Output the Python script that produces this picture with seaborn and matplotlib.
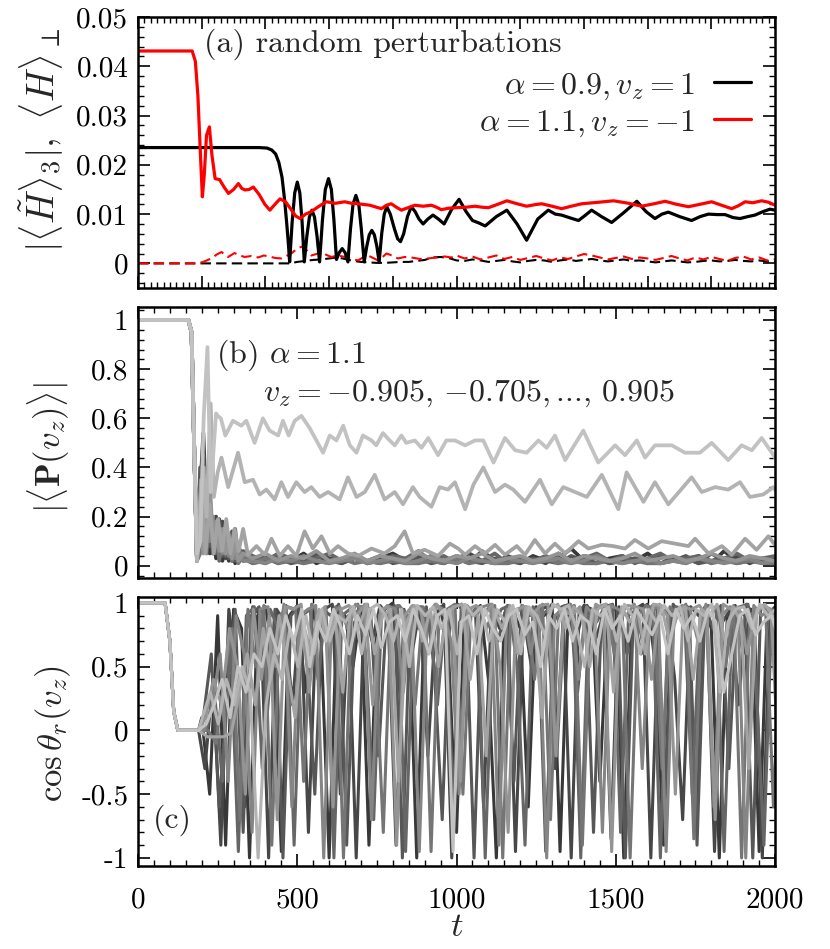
import numpy as np
import pandas as pd
import matplotlib
matplotlib.use("Agg")
import matplotlib.pyplot as plt
import seaborn as sns
from matplotlib.ticker import MultipleLocator, FixedLocator, FixedFormatter

# ---------------- data: panel (a) ----------------
a_black_t = [0, 380, 405, 420, 432, 442, 452, 460, 467, 472,
             476, 484, 492, 500, 508, 515, 522, 530, 538, 546,
             554, 562, 570, 579, 588, 598, 607, 615, 623, 632,
             641, 650, 659, 667, 675, 684, 693, 701, 710, 718,
             726, 734, 742, 750, 757, 765, 773, 781, 792, 805,
             815, 824, 834, 846, 858, 870, 882, 895, 910, 926,
             943, 961, 985, 1008, 1030, 1050, 1070, 1090, 1125, 1158,
             1190, 1220, 1255, 1288, 1310, 1330, 1358, 1383, 1405, 1424,
             1455, 1487, 1525, 1566, 1595, 1623, 1645, 1665, 1700, 1738,
             1765, 1791, 1818, 1843, 1868, 1890, 1915, 1937, 1962, 1984,
             2000]
a_black_v = [0.0235, 0.0235, 0.0234, 0.0230, 0.0222, 0.0205, 0.0175, 0.0130, 0.0080, 0.0040,
             0.0003, 0.0085, 0.0143, 0.0165, 0.0143, 0.0085, 0.0003, 0.0055, 0.0094, 0.0108,
             0.0094, 0.0055, 0.0003, 0.0088, 0.0150, 0.0172, 0.0150, 0.0088, 0.0008, 0.0022,
             0.0030, 0.0022, 0.0003, 0.0070, 0.0120, 0.0138, 0.0120, 0.0070, 0.0003, 0.0034,
             0.0058, 0.0067, 0.0058, 0.0034, 0.0003, 0.0060, 0.0100, 0.0115, 0.0100, 0.0070,
             0.0050, 0.0044, 0.0060, 0.0095, 0.0115, 0.0105, 0.0090, 0.0080, 0.0090, 0.0098,
             0.0090, 0.0080, 0.0110, 0.0130, 0.0105, 0.0087, 0.0082, 0.0076, 0.0095, 0.0108,
             0.0080, 0.0047, 0.0090, 0.0108, 0.0100, 0.0098, 0.0092, 0.0087, 0.0098, 0.0108,
             0.0095, 0.0083, 0.0103, 0.0126, 0.0105, 0.0091, 0.0100, 0.0104, 0.0095, 0.0087,
             0.0095, 0.0100, 0.0099, 0.0099, 0.0093, 0.0091, 0.0095, 0.0098, 0.0105, 0.0110,
             0.0108]

a_red_t = [0, 170, 180, 188, 196, 202, 208, 215, 224, 232,
           242, 256, 270, 284, 300, 315, 326, 336, 349, 362,
           380, 398, 414, 430, 446, 463, 480, 495, 509, 526,
           544, 566, 591, 620, 649, 670, 691, 728, 764, 780,
           795, 811, 827, 848, 869, 895, 921, 937, 952, 976,
           1000, 1030, 1058, 1080, 1100, 1130, 1158, 1190, 1220, 1245,
           1267, 1300, 1330, 1360, 1393, 1445, 1493, 1540, 1581, 1620,
           1655, 1690, 1728, 1765, 1801, 1832, 1864, 1885, 1906, 1930,
           1958, 1980, 2000]
a_red_v = [0.0431, 0.0431, 0.0410, 0.0340, 0.0220, 0.0135, 0.0180, 0.0260, 0.0277, 0.0220,
           0.0172, 0.0170, 0.0155, 0.0142, 0.0150, 0.0162, 0.0152, 0.0149, 0.0150, 0.0155,
           0.0140, 0.0120, 0.0108, 0.0120, 0.0131, 0.0125, 0.0110, 0.0096, 0.0091, 0.0100,
           0.0105, 0.0115, 0.0125, 0.0122, 0.0125, 0.0122, 0.0121, 0.0118, 0.0111, 0.0118,
           0.0121, 0.0114, 0.0108, 0.0113, 0.0118, 0.0116, 0.0118, 0.0114, 0.0109, 0.0112,
           0.0113, 0.0114, 0.0116, 0.0114, 0.0113, 0.0120, 0.0127, 0.0121, 0.0116, 0.0119,
           0.0121, 0.0116, 0.0111, 0.0116, 0.0121, 0.0124, 0.0127, 0.0122, 0.0116, 0.0121,
           0.0126, 0.0120, 0.0115, 0.0120, 0.0125, 0.0118, 0.0111, 0.0117, 0.0125, 0.0123,
           0.0127, 0.0124, 0.0118]

a_red_dash_t = [0, 188, 205, 230, 247, 262, 283, 303, 320, 335,
                356, 377, 395, 413, 430, 450, 466, 481, 500, 518,
                532, 544, 560, 576, 592, 607, 628, 649, 670, 691,
                706, 722, 738, 754, 768, 780, 798, 816, 837, 858,
                885, 911, 937, 963, 983, 1000] + list(range(1025, 2001, 25))
a_red_dash_v = [0, 0, .0003, .0010, .0018, .0023, .0013, .0021, .0016, .0013,
                .0015, .0012, .0016, .0014, .0011, .0010, .0015, .0020, .0030, .0035,
                .0025, .0016, .0019, .0023, .0017, .0013, .0016, .0013, .0009, .0006,
                .0012, .0016, .0011, .0006, .0013, .0020, .0016, .0010, .0013, .0012,
                .0009, .0010, .0012, .0014, .0012, .0016,
                .0010, .0014, .0008, .0012, .0016, .0009, .0013, .0007, .0011, .0015,
                .0010, .0006, .0012, .0009, .0014, .0019, .0016, .0012, .0008, .0011,
                .0014, .0009, .0012, .0010, .0007, .0011, .0015, .0010, .0006, .0012,
                .0008, .0013, .0009, .0005, .0011, .0014, .0008, .0012, .0006, .0008]

a_black_dash_t = [0, 476] + list(range(500, 2001, 25))
a_black_dash_v = [0, 0,
                  .0003, .0005, .0007, .0008, .0010, .0012, .0009, .0005, .0003, .0002,
                  .0001, .0001, .0002, .0003, .0003, .0005, .0007, .0012, .0013, .0011, .0006,
                  .0005, .0008, .0006, .0003, .0005, .0007, .0004, .0002, .0005, .0007,
                  .0006, .0003, .0006, .0008, .0005, .0007, .0009, .0006, .0004, .0006,
                  .0008, .0005, .0006, .0004, .0002, .0004, .0006, .0004, .0002, .0003,
                  .0005, .0006, .0004, .0005, .0007, .0005, .0004, .0006, .0004, .0003]

a_labels = [r"$\alpha = 0.9, v_z = 1$", r"$\alpha = 1.1, v_z = -1$"]

# ---------------- data: panel (b) ----------------
b_vz = [-0.905, -0.705, -0.505, -0.305, -0.105, 0.105, 0.305, 0.505, 0.705, 0.905]

b_hi1_t = [0, 158, 168, 176, 185, 196, 206, 218, 228, 236,
           245, 250, 260, 274, 298, 324, 340, 366, 392, 413,
           440, 455, 473, 492, 513, 539, 560, 581, 602, 623,
           644, 665, 686, 706, 733, 748, 769, 790, 806, 827,
           842, 869, 890, 911, 942, 968, 995, 1027, 1058, 1084,
           1116, 1152, 1184, 1220, 1257, 1283, 1309, 1341, 1398, 1445,
           1498, 1529, 1566, 1592, 1623, 1676, 1717, 1764, 1801, 1853,
           1895, 1927, 1958, 1995, 2000]
b_hi1_v = [1, 1, .95, .5, .05, .1, .6, .89, .3, .45,
           .62, .61, .60, .53, .59, .57, .59, .50, .60, .55,
           .53, .59, .53, .59, .61, .56, .51, .46, .53, .51,
           .57, .49, .46, .53, .51, .49, .54, .51, .49, .53,
           .50, .51, .48, .52, .45, .51, .51, .49, .51, .51,
           .42, .52, .47, .46, .51, .48, .53, .43, .55, .42,
           .49, .45, .51, .44, .49, .49, .46, .46, .50, .43,
           .49, .47, .52, .45, .44]

b_hi2_t = [0, 158, 168, 176, 185, 195, 205, 215, 228, 238,
           250, 262, 283, 314, 335, 361, 382, 403, 429, 450,
           471, 497, 523, 544, 570, 597, 633, 659, 686, 712,
           743, 774, 806, 832, 863, 884, 921, 947, 973, 995,
           1027, 1053, 1084, 1121, 1152, 1178, 1215, 1262, 1299, 1335,
           1372, 1409, 1456, 1508, 1534, 1587, 1623, 1665, 1738, 1770,
           1812, 1853, 1890, 1921, 1963, 1995, 2000]
b_hi2_v = [1, 1, .95, .5, .02, .2, .4, .2, .66, .28,
           .38, .44, .32, .46, .34, .35, .29, .31, .27, .34,
           .28, .34, .30, .32, .28, .30, .27, .36, .28, .30,
           .37, .27, .30, .25, .32, .28, .24, .32, .31, .34,
           .23, .33, .40, .30, .33, .31, .26, .35, .25, .32,
           .30, .28, .37, .23, .38, .26, .34, .25, .36, .30,
           .32, .31, .34, .28, .29, .32, .31]

b_mid_t = [0, 158, 168, 176, 185, 198, 212, 225, 238, 251,
           264, 277, 290, 303, 316, 330, 345, 372, 398, 419,
           445, 471, 497, 523, 549, 576, 602, 628, 659, 691,
           733, 774, 806, 837, 863, 900, 942, 979, 1005, 1027,
           1058, 1089, 1121, 1152, 1189, 1215, 1246, 1278, 1309, 1341,
           1383, 1414, 1456, 1492, 1529, 1560, 1602, 1644, 1686, 1728,
           1749, 1791, 1833, 1864, 1906, 1942, 1979, 2000]
b_mid_v = [1, 1, .95, .5, .02, .35, .05, .25, .05, .19,
           .06, .19, .05, .15, .06, .15, .045, .08, .045, .11,
           .04, .08, .04, .14, .07, .12, .05, .08, .05, .04,
           .07, .05, .08, .14, .05, .065, .04, .09, .07, .045,
           .08, .05, .085, .045, .08, .045, .105, .05, .09, .05,
           .10, .07, .085, .08, .07, .105, .07, .10, .09, .08,
           .11, .05, .08, .045, .11, .065, .12, .085]

b_low_t = [0, 158, 168, 176, 185, 195, 205, 215, 225, 235,
           245, 255, 265, 275, 285, 295, 305, 315, 330] + list(range(360, 2001, 40))
b_low_v = [
    [1, 1, .95, .5, .02, .3, .54, .2, .05, .15, .03, .12, .02, .1, .02, .06, .01, .04, .02,
     .03, .01, .04, .02, .05, .01, .03, .02, .04, .01, .03, .05, .02, .01, .04, .02, .03, .01, .06, .02,
     .03, .01, .04, .02, .03, .07, .02, .01, .03, .04, .02, .05, .01, .03, .02, .04, .01, .06, .02, .03,
     .02, .03],
    [1, 1, .95, .5, .02, .1, .35, .15, .3, .05, .2, .04, .18, .03, .1, .02, .08, .02, .05,
     .02, .04, .01, .03, .02, .05, .03, .01, .04, .02, .01, .03, .02, .04, .02, .01, .03, .05, .02, .01,
     .04, .02, .03, .01, .05, .02, .04, .03, .01, .02, .03, .01, .04, .02, .03, .01, .05, .02, .04, .01,
     .03, .02],
    [1, 1, .95, .5, .02, .4, .1, .3, .08, .2, .05, .19, .04, .16, .03, .14, .02, .08, .03,
     .01, .02, .03, .01, .02, .04, .02, .01, .03, .02, .04, .01, .02, .03, .01, .02, .04, .02, .01, .03,
     .02, .01, .03, .02, .01, .04, .02, .03, .01, .02, .03, .02, .01, .02, .04, .01, .02, .03, .01, .02,
     .02, .01],
    [1, 1, .95, .5, .02, .2, .45, .1, .25, .05, .15, .02, .13, .04, .12, .02, .15, .03, .06,
     .04, .02, .05, .03, .01, .03, .05, .02, .04, .01, .02, .04, .03, .06, .02, .04, .01, .03, .02, .05,
     .01, .03, .02, .04, .02, .01, .03, .05, .02, .04, .01, .03, .05, .02, .03, .04, .02, .03, .05, .02,
     .03, .04],
    [1, 1, .95, .5, .02, .05, .3, .05, .2, .1, .12, .03, .1, .05, .08, .02, .06, .01, .04,
     .01, .03, .01, .02, .01, .02, .01, .03, .01, .02, .01, .02, .01, .01, .02, .01, .03, .01, .02, .01,
     .01, .02, .01, .03, .01, .02, .01, .01, .02, .01, .02, .01, .01, .02, .01, .03, .01, .02, .01, .02,
     .01, .01],
    [1, 1, .95, .5, .02, .25, .15, .4, .1, .2, .08, .15, .05, .12, .04, .1, .03, .07, .02,
     .02, .01, .03, .02, .04, .02, .01, .02, .03, .01, .02, .03, .01, .02, .04, .02, .01, .03, .02, .01,
     .03, .02, .01, .02, .03, .01, .02, .04, .02, .01, .02, .03, .01, .02, .01, .03, .02, .01, .02, .03,
     .01, .02],
    [1, 1, .95, .5, .02, .15, .05, .2, .35, .1, .18, .06, .15, .05, .13, .03, .1, .02, .05,
     .03, .05, .02, .04, .03, .06, .02, .03, .05, .02, .04, .03, .02, .05, .03, .02, .04, .03, .05, .02,
     .03, .04, .02, .03, .05, .02, .04, .03, .02, .03, .05, .02, .03, .04, .02, .03, .05, .03, .02, .04,
     .03, .02],
]

# ---------------- data: panel (c) ----------------
c_pre_t = [0, 85, 100, 112, 125, 190]
c_pre_v = [1, 1, 0.7, 0.15, 0, 0]
c_start = [200, 210, 205, 215, 220, 208, 212, 218, 202, 214]
c_step = 25
c_vals = [
    [.1, -.5, .9, -.9, .95, .8, -1, .9, .97, .6, -.95, .9, .98, .3, .95,
     .7, -1, .95, .9, .5, .97, -.9, .8, .95, 1, .2, .9, -1, .95, .85,
     .97, .6, -.8, .95, .9, .98, .4, -1, .9, .95, .8, -.6, .97, .9, .99,
     -.95, .9, .7, .98, .95, -.4, .9, .97, -1, .85, .95, .99, .5, -.9, .95,
     .9, .97, -.7, .95, .8, -1, .9, .98, .6, .95, -.95, .9, .97, .3, .95],
    [-.3, .4, -.9, .95, .5, -.6, .97, .9, -1, .95, .85, .2, .98, -.8, .9,
     .95, .99, -.5, .9, -1, .95, .7, .98, .9, -.9, .95, .6, .97, -.2, .9,
     .99, -1, .85, .95, .9, -.6, .97, .8, .98, -.95, .9, .5, .95, .97, -.3,
     .9, -1, .95, .98, .7, .9, -.85, .97, .6, .95, .99, -1, .9, .95, .4,
     -.7, .97, .9, .98, -.95, .85, .95, .2, .99, .9, -1, .95, .8, .97, .9],
    [.1, .6, -.6, .3, .95, -.8, .9, .97, .1, .95, -1, .9, .98, .6, -.5,
     .95, .9, .99, -.9, .85, .97, .95, -.2, .9, .98, -1, .95, .8, .97, .5,
     -.7, .95, .99, .9, -1, .9, .97, .7, .95, -.4, .98, .9, .95, -.95, .85,
     .97, .99, .3, .95, -.8, .9, .98, .95, -1, .9, .6, .97, .95, -.5, .99,
     .9, .95, -.9, .97, .8, .98, -.3, .95, .9, -1, .97, .95, .7, .9, .98],
    [0, .3, -.4, .7, -.95, .9, .97, -.3, .95, .8, .98, -.9, .9, .95, .4,
     .97, -1, .9, .95, .99, .6, -.7, .95, .9, .98, -.95, .85, .97, .9, .2,
     .95, -.6, .99, .9, .97, -1, .8, .95, .98, .5, -.9, .97, .9, .95, -.2,
     .98, .9, -1, .95, .85, .97, .99, -.8, .9, .95, .6, .98, -1, .9, .97,
     .95, -.5, .9, .98, .95, -.95, .85, .97, .99, .4, -.9, .95, .9, .98, .9],
    [0, -.1, .4, .8, -.7, .95, .5, .98, -.9, .9, .97, .95, -.4, .99, .9,
     .7, .97, -1, .9, .95, .99, .6, -.8, .95, .98, .9, .2, .97, -.95, .9,
     .95, .99, -.5, .9, .97, .8, .98, -1, .9, .95, .97, .4, .99, -.7, .9,
     .95, .98, -.9, .9, .97, .99, .6, .95, -1, .9, .98, .95, -.3, .97, .9,
     .99, -.85, .95, .9, .97, .5, .98, -1, .9, .95, .97, -.6, .99, .9, .95],
    [0, .2, .6, -.4, .9, .6, -.8, .95, .97, .5, .99, -.6, .9, .95, .98,
     -1, .9, .97, .8, .99, .95, -.7, .9, .98, .95, .3, .97, -.95, .9, .99,
     .95, .7, -.5, .98, .9, .97, .99, -.9, .95, .9, .98, .6, .97, -1, .9,
     .95, .99, .4, .97, .9, -.8, .98, .95, .9, .99, -.3, .95, .97, -.95, .9,
     .98, .95, .7, .99, -.6, .9, .97, .95, -1, .98, .9, .95, .5, .97, .99],
    [.1, .4, .2, .8, .5, -.5, .95, .4, .9, -.7, .97, .95, .99, .3, .9,
     .97, -.6, .95, .98, .9, .99, .2, .95, .97, -.9, .9, .98, .95, .6, .99,
     .9, .97, -.4, .95, .98, .9, .99, .5, -.8, .95, .97, .9, .98, .99, -.2,
     .95, .9, .97, .7, .99, .95, -.95, .9, .98, .97, .95, .4, .99, .9, -.5,
     .97, .95, .98, .9, -.7, .99, .95, .97, .6, .9, .98, .95, -.3, .99, .97],
    [-.05, -.05, -.05, -.02, .3, .6, .2, .8, .4, .9, .5, .1, .85, .6, .95,
     .7, .9, .3, .97, .8, .99, .6, .9, .95, -.4, .85, .98, .7, .95, .5,
     .9, .97, .99, .4, .9, -.2, .95, .8, .98, .6, .97, .9, .1, .95, .99,
     .8, .97, .9, .5, .95, .99, .3, .97, .85, .95, .6, .99, .98, .7, .9,
     .97, .4, .95, .9, .99, .7, .97, .85, -.3, .95, .99, .9, .6, .97, .95],
    [.1, .3, .05, .4, .2, .5, .3, -1, .2, .6, .4, .8, .5, .9, .6,
     .95, .7, .9, .85, .97, .6, .95, .99, .9, .7, .95, .5, .98, .9, .97,
     .8, .95, .6, .99, .9, .97, .7, .95, .85, .98, .6, .97, .9, .75, .99,
     .95, .98, .8, .5, .95, .9, .97, .7, .99, .9, .6, .95, .85, .98, .9,
     .97, .7, .95, .9, .99, .3, .85, .95, .97, .8, .99, .9, .95, .98, .9],
    [.05, .2, .4, .1, .5, .3, .6, .5, .8, .6, .9, .7, .95, .5, .85,
     .7, .95, .8, .6, .9, .75, .95, .65, .85, .9, .7, .95, .8, .6, .9,
     .95, -.95, .85, .9, .6, .95, .8, .7, .9, .95, .75, .85, .5, .9, .8,
     .95, .7, .9, .85, .6, .95, .8, .9, .7, .95, .85, .75, .9, .6, .95,
     .8, .9, .7, .95, .85, .3, .6, .9, .95, .75, .85, .9, .7, .95, .9],
]

# ---------------- ticks ----------------
x_ticks = [0, 500, 1000, 1500, 2000]
x_ticklabels = ["0", "500", "1000", "1500", "2000"]
a_yticks = [0, 0.01, 0.02, 0.03, 0.04, 0.05]
a_yticklabels = ["0", "0.01", "0.02", "0.03", "0.04", "0.05"]
b_yticks = [0, 0.2, 0.4, 0.6, 0.8, 1.0]
b_yticklabels = ["0", "0.2", "0.4", "0.6", "0.8", "1"]
c_yticks = [-1, -0.5, 0, 0.5, 1]
c_yticklabels = ["-1", "-0.5", "0", "0.5", "1"]

# ---------------- style ----------------
sns.set_theme(style="ticks")
plt.rcParams.update({
    "font.family": "serif",
    "font.serif": ["cmr10"],
    "mathtext.fontset": "cm",
    "axes.unicode_minus": False,
    "axes.formatter.use_mathtext": True,
    "axes.linewidth": 1.8,
    "axes.edgecolor": "black",
    "xtick.direction": "in",
    "ytick.direction": "in",
    "xtick.top": True,
    "ytick.right": True,
    "xtick.color": "black",
    "ytick.color": "black",
    "axes.facecolor": "white",
})

TICK_FS = 21
TEXT_FS = 23
LABEL_FS = 25

fig = plt.figure(figsize=(8.30, 9.49), dpi=100)
ax_a = fig.add_axes([0.1663, 0.6965, 0.7675, 0.2856])
ax_b = fig.add_axes([0.1663, 0.3909, 0.7675, 0.2856])
ax_c = fig.add_axes([0.1663, 0.0875, 0.7675, 0.2835])

grays = [str(g) for g in np.linspace(0.22, 0.76, 10)]

# panel (a)
sns.lineplot(x=a_black_dash_t, y=a_black_dash_v, ax=ax_a, color="black", lw=1.5,
             linestyle=(0, (5, 2.5)), estimator=None, sort=False)
sns.lineplot(x=a_red_dash_t, y=a_red_dash_v, ax=ax_a, color="red", lw=1.5,
             linestyle=(0, (5, 2.5)), estimator=None, sort=False)
sns.lineplot(x=a_black_t, y=a_black_v, ax=ax_a, color="black", lw=2.3,
             estimator=None, sort=False, label=a_labels[0])
sns.lineplot(x=a_red_t, y=a_red_v, ax=ax_a, color="red", lw=2.3,
             estimator=None, sort=False, label=a_labels[1])
ax_a.set_xlim(0, 2000)
ax_a.set_ylim(-0.005, 0.05)
ax_a.xaxis.set_major_locator(MultipleLocator(200))
ax_a.xaxis.set_minor_locator(MultipleLocator(20))
ax_a.xaxis.set_major_formatter(FixedFormatter([]))
ax_a.yaxis.set_major_locator(FixedLocator(a_yticks))
ax_a.yaxis.set_major_formatter(FixedFormatter(a_yticklabels))
ax_a.yaxis.set_minor_locator(MultipleLocator(0.002))
handles, labels = ax_a.get_legend_handles_labels()
ax_a.legend(handles, labels, loc="upper right", bbox_to_anchor=(0.962, 0.80),
            markerfirst=False, frameon=False, fontsize=TEXT_FS, handlelength=1.15,
            handletextpad=0.6, borderpad=0, borderaxespad=0, labelspacing=0.2)
ax_a.text(0.104, 0.90, "(a) random perturbations", transform=ax_a.transAxes,
          fontsize=TEXT_FS, ha="left", va="center")
ax_a.set_ylabel(r"$|\langle\tilde{H}\rangle_3|,\ \langle H\rangle_\perp$", fontsize=27)
ax_a.yaxis.set_label_coords(-0.152, 0.545)

# panel (b)
b_frames = []
for i in range(10):
    if i == 9:
        t, v = b_hi1_t, b_hi1_v
    elif i == 8:
        t, v = b_hi2_t, b_hi2_v
    elif i == 7:
        t, v = b_mid_t, b_mid_v
    else:
        t, v = b_low_t, b_low_v[i]
    b_frames.append(pd.DataFrame({"t": t, "P": v, "vz": b_vz[i]}))
df_b = pd.concat(b_frames, ignore_index=True)
sns.lineplot(data=df_b, x="t", y="P", hue="vz", palette=grays, ax=ax_b, lw=2.7,
             estimator=None, legend=False)
ax_b.set_xlim(0, 2000)
ax_b.set_ylim(-0.05, 1.053)
ax_b.xaxis.set_major_locator(MultipleLocator(500))
ax_b.xaxis.set_minor_locator(MultipleLocator(50))
ax_b.xaxis.set_major_formatter(FixedFormatter([]))
ax_b.yaxis.set_major_locator(FixedLocator(b_yticks))
ax_b.yaxis.set_major_formatter(FixedFormatter(b_yticklabels))
ax_b.yaxis.set_minor_locator(MultipleLocator(0.04))
ax_b.text(0.122, 0.823, r"(b) $\alpha = 1.1$", transform=ax_b.transAxes,
          fontsize=TEXT_FS, ha="left", va="center")
ax_b.text(0.196, 0.683, r"$v_z = -0.905,\,{-0.705},$...$,\,0.905$", transform=ax_b.transAxes,
          fontsize=TEXT_FS, ha="left", va="center")
ax_b.set_ylabel(r"$|\langle\mathbf{P}(v_z)\rangle|$", fontsize=LABEL_FS)
ax_b.yaxis.set_label_coords(-0.140, 0.483)

# panel (c)
c_frames = []
for i in range(10):
    t = c_pre_t + [c_start[i] + c_step * k for k in range(len(c_vals[i]))]
    v = c_pre_v + c_vals[i]
    c_frames.append(pd.DataFrame({"t": t, "cos": v, "vz": b_vz[i]}))
df_c = pd.concat(c_frames, ignore_index=True)
sns.lineplot(data=df_c, x="t", y="cos", hue="vz", palette=grays, ax=ax_c, lw=2.2,
             estimator=None, legend=False)
ax_c.set_xlim(0, 2000)
ax_c.set_ylim(-1.063, 1.047)
ax_c.xaxis.set_major_locator(FixedLocator(x_ticks))
ax_c.xaxis.set_major_formatter(FixedFormatter(x_ticklabels))
ax_c.xaxis.set_minor_locator(MultipleLocator(50))
ax_c.yaxis.set_major_locator(FixedLocator(c_yticks))
ax_c.yaxis.set_major_formatter(FixedFormatter(c_yticklabels))
ax_c.yaxis.set_minor_locator(MultipleLocator(0.1))
ax_c.text(0.0235, 0.171, "(c)", transform=ax_c.transAxes,
          fontsize=TEXT_FS, ha="left", va="center")
ax_c.set_ylabel(r"$\cos\theta_r(v_z)$", fontsize=LABEL_FS)
ax_c.yaxis.set_label_coords(-0.133, 0.494)

for ax in (ax_a, ax_b, ax_c):
    ax.tick_params(which="major", length=8.5, width=1.2, labelsize=TICK_FS, pad=7,
                   top=True, right=True, direction="in")
    ax.tick_params(which="minor", length=4.3, width=1.0, top=True, right=True,
                   direction="in")
    ax.tick_params(axis="x", which="major", pad=15)
    for s in ax.spines.values():
        s.set_visible(True)
        s.set_linewidth(1.8)
    ax.yaxis.label.set_verticalalignment("center")
    ax.grid(False)

ax_c.set_xlabel(r"$t$", fontsize=LABEL_FS, labelpad=-1)

fig.savefig("out.png", dpi=100, facecolor="white")
